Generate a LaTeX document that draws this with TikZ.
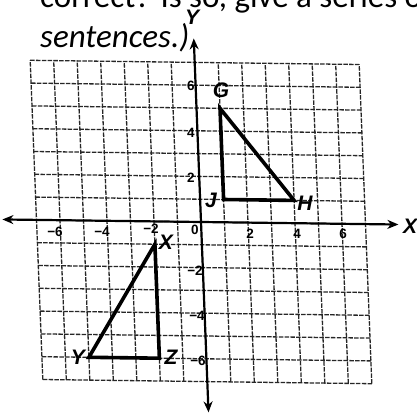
\documentclass[tikz,border=0pt]{standalone}
\usepackage{fontspec}
\setmainfont{Carlito}
\newfontfamily\labfont{Liberation Sans}
\usetikzlibrary{arrows.meta}
\begin{document}
\begin{tikzpicture}[x=1pt,y=-1pt,
  gridline/.style={line width=1.3pt, black!85, dash pattern=on 4.5pt off 1.3pt},
  axisline/.style={line width=2.2pt, {Stealth[length=11pt,width=9pt]}-{Stealth[length=11pt,width=9pt]}},
  tri/.style={line width=3.6pt, line join=miter},
  ticklab/.style={font=\labfont\bfseries\fontsize{13.5}{13.5}\selectfont, inner sep=0pt},
  ptlab/.style={font=\labfont\bfseries\itshape\fontsize{21}{21}\selectfont, inner sep=0pt},
  para/.style={font=\fontsize{33}{38}\selectfont, anchor=base west, inner sep=0pt}]
\useasboundingbox (0,0) rectangle (417,414);
\clip (0,0) rectangle (417,414);
\fill[white] (0,0) rectangle (417,414);
% question text
\node[para] (t1) at (40,8) {correct? Is so, give a series of};
\node[para, font=\itshape\fontsize{33}{38}\selectfont] (t2) at (40,48) {sentences.)};
% grid, axes and triangles in grid units
\begin{scope}[shift={(201,222)}, x={(23.5pt,-0.3pt)}, y={(-0.9pt,22.8pt)}]
  \foreach \i in {-7,...,7} {
    \draw[gridline] (\i,-7) -- (\i,7);
    \draw[gridline] (-7,\i) -- (7,\i);
  }
  \coordinate (xl) at (-8.45,0);
  \coordinate (xr) at (8.4,0);
  \coordinate (yt) at (0,8.05);
  \coordinate (yb) at (0,-8.35);
  \draw[axisline] (xl) -- (xr);
  \draw[axisline] (yt) -- (yb);
  \coordinate (G) at (1,5);
  \coordinate (H) at (4,1);
  \coordinate (J) at (1,1);
  \coordinate (X) at (-2,-1);
  \coordinate (Y) at (-5,-6);
  \coordinate (Z) at (-2,-6);
  \draw[tri] (G) -- (H) -- (J) -- cycle;
  \draw[tri] (X) -- (Y) -- (Z) -- cycle;
\end{scope}
% tick labels
\node[ticklab] (xm6) at (55,232) {−6};
\node[ticklab] (xm4) at (102,232) {−4};
\node[ticklab] (xm2) at (151,229) {−2};
\node[ticklab] (x0) at (195,230) {0};
\node[ticklab] (x2) at (250,234) {2};
\node[ticklab] (x4) at (297,234) {4};
\node[ticklab] (x6) at (343,234) {6};
\node[ticklab] (y6) at (191,86) {6};
\node[ticklab] (y4) at (191,133) {4};
\node[ticklab] (y2) at (191,178) {2};
\node[ticklab] (ym2) at (195,271) {−2};
\node[ticklab] (ym4) at (197,316) {−4};
\node[ticklab] (ym6) at (198,361) {−6};
% point and axis labels
\node[ptlab] (lG) at (221,90) {G};
\node[ptlab] (lJ) at (211,200) {J};
\node[ptlab] (lH) at (305,203) {H};
\node[ptlab] (lX) at (166,242) {X};
\node[ptlab] (lY) at (78,357) {Y};
\node[ptlab] (lZ) at (171,357) {Z};
\node[ptlab] (ax) at (410,226) {X};
\node[ptlab] (ay) at (192,17) {Y};
\end{tikzpicture}
\end{document}
